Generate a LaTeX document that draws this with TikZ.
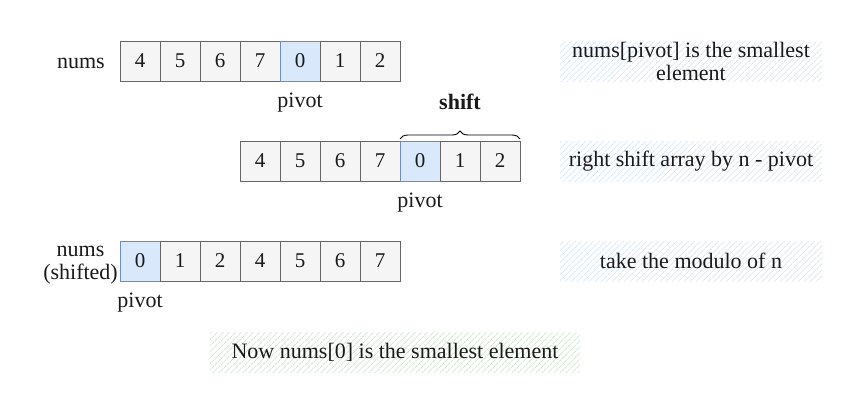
\documentclass[tikz,border=0pt]{standalone}
\usepackage{fontspec}
\setmainfont{Liberation Serif}
\usetikzlibrary{patterns.meta,decorations.pathreplacing}
\definecolor{cellfill}{HTML}{F5F5F5}
\definecolor{celldraw}{HTML}{666666}
\definecolor{pivfill}{HTML}{DAE8FC}
\definecolor{pivdraw}{HTML}{6C8EBF}
\definecolor{hatchblue}{HTML}{DAE8FC}
\definecolor{hatchgreen}{HTML}{D5E8D4}
\definecolor{txt}{HTML}{1A1A1A}
\tikzset{
  cell/.style={draw=celldraw, fill=cellfill, line width=0.9pt, minimum width=40pt, minimum height=40pt, inner sep=0pt, font=\fontsize{21}{21}\selectfont, text=txt},
  pivcell/.style={cell, draw=pivdraw, fill=pivfill},
  lbl/.style={font=\fontsize{22}{23}\selectfont, text=txt, inner sep=0pt, align=center},
  notebox/.style={minimum width=262pt, minimum height=40pt, inner sep=0pt, align=center, font=\fontsize{22}{23}\selectfont, text=txt,
    pattern={Lines[angle=45,distance=4pt,line width=1pt]}, pattern color=hatchblue},
  greenbox/.style={notebox, minimum width=370pt, pattern color=hatchgreen},
}
\begin{document}
\begin{tikzpicture}[x=1pt,y=-1pt]
\useasboundingbox (0,0) rectangle (851,402);
% row 1
\foreach \v [count=\i] in {4,5,6,7,0,1,2}{
  \ifnum\i=5 \node[pivcell] (a\i) at (100+40*\i,61) {\v};
  \else \node[cell] (a\i) at (100+40*\i,61) {\v}; \fi
}
\node[lbl, anchor=east] (numsA) at (105,63) {nums};
\node[lbl] (pivA) at (300,103) {pivot};
% row 2
\foreach \v [count=\i] in {4,5,6,7,0,1,2}{
  \ifnum\i=5 \node[pivcell] (b\i) at (220+40*\i,161) {\v};
  \else \node[cell] (b\i) at (220+40*\i,161) {\v}; \fi
}
\node[lbl] (pivB) at (420,203) {pivot};
\coordinate (brL) at (400,139);
\coordinate (brR) at (520,139);
\draw[line width=0.9pt, decorate, decoration={brace, amplitude=8pt}] (brL) -- (brR);
\node[lbl, font=\fontsize{22}{23}\selectfont\bfseries] (shift) at (460,102) {shift};
% row 3
\foreach \v [count=\i] in {0,1,2,4,5,6,7}{
  \ifnum\i=1 \node[pivcell] (c\i) at (100+40*\i,261) {\v};
  \else \node[cell] (c\i) at (100+40*\i,261) {\v}; \fi
}
\node[lbl, anchor=east, align=center] (numsC) at (118,265) {nums\\(shifted)};
\node[lbl] (pivC) at (140,303) {pivot};
% notes
\node[notebox] (n1) at (691,61) {nums[pivot] is the smallest\\element};
\node[notebox] (n2) at (691,161) {right shift array by n - pivot};
\node[notebox] (n3) at (691,261) {take the modulo of n};
\node[greenbox] (n4) at (395,352) {Now nums[0] is the smallest element};
\end{tikzpicture}
\end{document}
